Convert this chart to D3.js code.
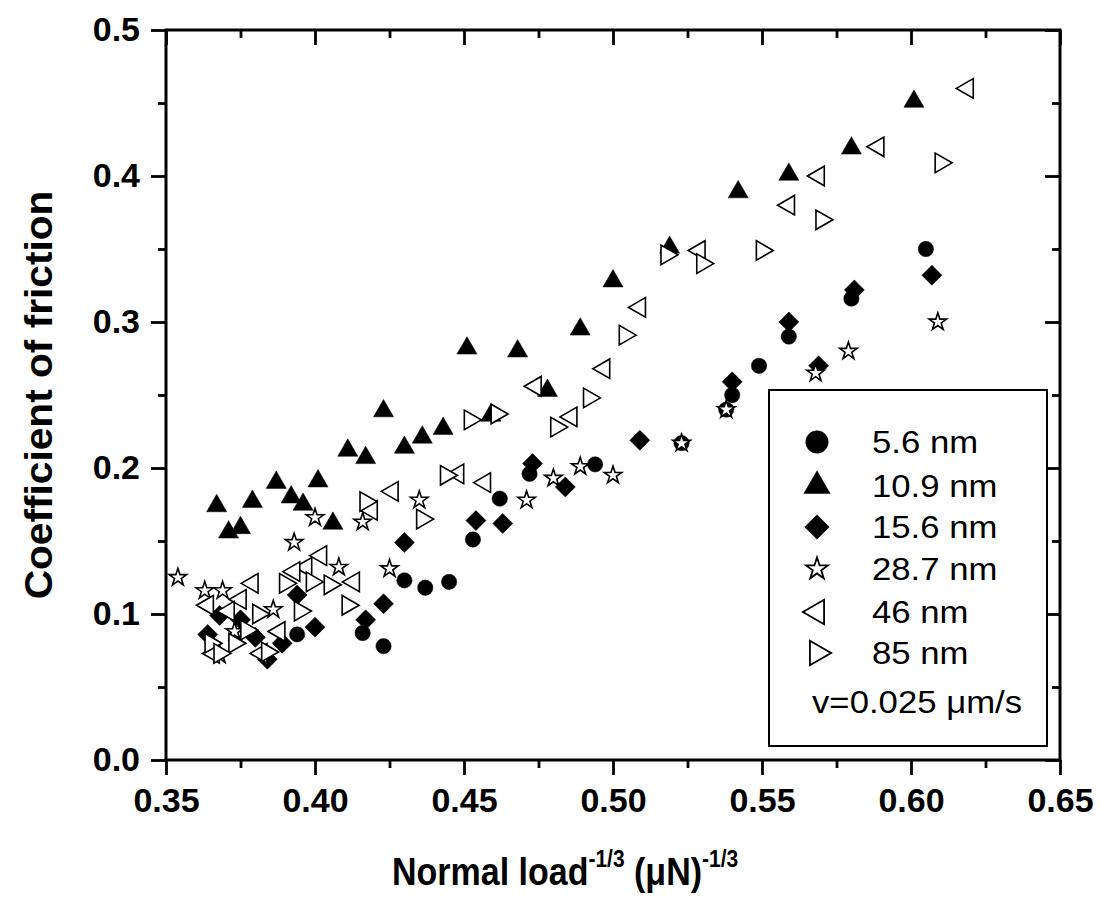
<!DOCTYPE html>
<html>
<head>
<meta charset="utf-8">
<script src="https://cdn.jsdelivr.net/npm/d3@7"></script>
<style>
  body { margin: 0; background: #fff; }
  text { font-family: "Liberation Sans", Arial, sans-serif; fill: #000; }
</style>
</head>
<body>
<svg id="chart"></svg>
<script>
// tick values
const xTicks = [0.35, 0.40, 0.45, 0.50, 0.55, 0.60, 0.65];
const xMinor = [0.375, 0.425, 0.475, 0.525, 0.575, 0.625];
const yTicks = [0.0, 0.1, 0.2, 0.3, 0.4, 0.5];
const yMinor = [0.05, 0.15, 0.25, 0.35, 0.45];

// series: [normal load^-1/3, coefficient of friction]
const s56 = [[0.605,0.350],[0.580,0.316],[0.559,0.290],[0.549,0.270],[0.540,0.250],[0.538,0.240],
  [0.523,0.217],[0.494,0.2025],[0.472,0.196],[0.462,0.179],[0.453,0.151],[0.445,0.122],
  [0.437,0.118],[0.430,0.123],[0.423,0.078],[0.416,0.087],[0.394,0.086]];
const s109 = [[0.601,0.451],[0.580,0.419],[0.559,0.401],[0.542,0.389],[0.519,0.351],[0.500,0.328],
  [0.489,0.295],[0.478,0.253],[0.468,0.280],[0.451,0.282],[0.459,0.236],[0.443,0.227],
  [0.436,0.221],[0.430,0.214],[0.423,0.239],[0.417,0.207],[0.411,0.212],[0.406,0.162],
  [0.401,0.191],[0.396,0.175],[0.392,0.180],[0.387,0.190],[0.379,0.177],[0.375,0.159],
  [0.371,0.156],[0.367,0.174]];
const s156 = [[0.607,0.332],[0.581,0.322],[0.559,0.300],[0.569,0.270],[0.540,0.259],[0.509,0.219],
  [0.484,0.187],[0.473,0.203],[0.463,0.162],[0.454,0.164],[0.430,0.149],[0.423,0.107],
  [0.417,0.096],[0.400,0.091],[0.394,0.113],[0.389,0.080],[0.384,0.069],[0.380,0.084],
  [0.375,0.096],[0.368,0.099],[0.364,0.086]];
const s287 = [[0.609,0.300],[0.579,0.280],[0.568,0.265],[0.538,0.240],[0.523,0.217],[0.500,0.195],
  [0.489,0.201],[0.480,0.193],[0.471,0.178],[0.435,0.178],[0.425,0.131],[0.416,0.163],
  [0.408,0.132],[0.400,0.166],[0.393,0.149],[0.386,0.103],[0.373,0.088],[0.369,0.116],
  [0.363,0.116],[0.354,0.125],[0.368,0.072]];
const s46 = [[0.619,0.460],[0.589,0.420],[0.569,0.400],[0.559,0.380],[0.529,0.349],[0.509,0.310],
  [0.497,0.268],[0.486,0.235],[0.474,0.256],[0.457,0.190],[0.448,0.196],[0.426,0.184],
  [0.419,0.171],[0.413,0.122],[0.402,0.140],[0.397,0.132],[0.393,0.129],[0.388,0.088],
  [0.382,0.073],[0.379,0.121],[0.375,0.110],[0.371,0.102],[0.366,0.073],[0.364,0.106]];
const s85 = [[0.610,0.409],[0.570,0.370],[0.550,0.349],[0.530,0.340],[0.518,0.346],[0.504,0.291],
  [0.492,0.248],[0.481,0.228],[0.461,0.237],[0.452,0.233],[0.444,0.195],[0.436,0.165],
  [0.417,0.177],[0.411,0.106],[0.405,0.120],[0.399,0.122],[0.395,0.102],[0.390,0.121],
  [0.381,0.100],[0.377,0.089],[0.373,0.080],[0.384,0.074],[0.365,0.080],[0.368,0.073]];

const seriesNames = ['5.6 nm', '10.9 nm', '15.6 nm', '28.7 nm', '46 nm', '85 nm'];

const config = {
  width: 1100, height: 897,
  margin: {top: 30, right: 40, bottom: 137, left: 166}
};
const width = config.width - config.margin.left - config.margin.right;
const height = config.height - config.margin.top - config.margin.bottom;

const svg = d3.select('#chart')
    .attr('width', config.width)
    .attr('height', config.height);

const chart = svg.append('g')
    .attr('transform', `translate(${config.margin.left},${config.margin.top})`);

const x = d3.scaleLinear().domain([0.35, 0.65]).range([0, width]);
const y = d3.scaleLinear().domain([0, 0.5]).range([height, 0]);

// marker styles, one per series (plot size, legend size)
const markers = [
  {type: d3.symbolCircle,   size: 185, lsize: 400, rot: 0,   fill: '#000'},
  {type: d3.symbolTriangle, size: 175, lsize: 300, rot: 0,   fill: '#000'},
  {type: d3.symbolSquare,   size: 200, lsize: 300, rot: 45,  fill: '#000'},
  {type: d3.symbolStar,     size: 95,  lsize: 150, rot: 0,   fill: '#fff'},
  {type: d3.symbolTriangle, size: 165, lsize: 260, rot: -90, fill: '#fff'},
  {type: d3.symbolTriangle, size: 165, lsize: 260, rot: 90,  fill: '#fff'}
];
const allSeries = [s56, s109, s156, s287, s46, s85];

// axes
function axisG(axis, tx, ty) {
  const g = chart.append('g')
      .attr('transform', `translate(${tx},${ty})`)
      .call(axis);
  g.select('.domain').remove();
  g.selectAll('line').attr('stroke', '#000').attr('stroke-width', 2.8);
  return g;
}

const xb = axisG(d3.axisBottom(x).tickValues(xTicks).tickFormat(d3.format('.2f'))
    .tickSize(15).tickPadding(13), 0, height);
axisG(d3.axisBottom(x).tickValues(xMinor).tickFormat('').tickSize(8), 0, height);
axisG(d3.axisTop(x).tickValues(xTicks).tickFormat('').tickSize(-15), 0, 0);
axisG(d3.axisTop(x).tickValues(xMinor).tickFormat('').tickSize(-8), 0, 0);

const yl = axisG(d3.axisLeft(y).tickValues(yTicks).tickFormat(d3.format('.1f'))
    .tickSize(15).tickPadding(11), 0, 0);
axisG(d3.axisLeft(y).tickValues(yMinor).tickFormat('').tickSize(8), 0, 0);
axisG(d3.axisRight(y).tickValues(yTicks).tickFormat('').tickSize(-15), width, 0);
axisG(d3.axisRight(y).tickValues(yMinor).tickFormat('').tickSize(-8), width, 0);

[xb, yl].forEach(g => g.selectAll('text')
    .attr('font-family', '"Liberation Sans", Arial, sans-serif')
    .attr('font-size', 34)
    .attr('font-weight', 'bold')
    .attr('fill', '#000'));

chart.append('rect')
    .attr('width', width)
    .attr('height', height)
    .attr('fill', 'none')
    .attr('stroke', '#000')
    .attr('stroke-width', 3);

// points
allSeries.forEach((data, i) => {
  const m = markers[i];
  const sym = d3.symbol().type(m.type).size(m.size);
  chart.append('g')
    .selectAll('path')
    .data(data)
    .join('path')
      .attr('d', sym)
      .attr('transform', d => `translate(${x(d[0])},${y(d[1])}) rotate(${m.rot})`)
      .attr('fill', m.fill)
      .attr('stroke', '#000')
      .attr('stroke-width', m.fill === '#000' ? 0.5 : 1.6);
});

// legend
const legend = svg.append('g');
legend.append('rect')
    .attr('x', 769).attr('y', 390)
    .attr('width', 278).attr('height', 356)
    .attr('fill', '#fff')
    .attr('stroke', '#000')
    .attr('stroke-width', 2);

const rowY = [442, 486, 527, 569, 612, 653];
seriesNames.forEach((name, i) => {
  const m = markers[i];
  legend.append('path')
      .attr('d', d3.symbol().type(m.type).size(m.lsize))
      .attr('transform', `translate(817,${rowY[i]}) rotate(${m.rot})`)
      .attr('fill', m.fill)
      .attr('stroke', '#000')
      .attr('stroke-width', m.fill === '#000' ? 0.5 : 1.8);
  legend.append('text')
      .attr('transform', `translate(872,${rowY[i] + 11}) scale(1.12,1)`)
      .attr('font-size', 31)
      .text(name);
});
legend.append('text')
    .attr('transform', 'translate(812,713) scale(1.12,1)')
    .attr('font-size', 31)
    .text('v=0.025 \u03bcm/s');

// axis titles
const xt = svg.append('text')
    .attr('transform', 'translate(392,885) scale(1,1.15)')
    .attr('font-size', 34)
    .attr('font-weight', 'bold');
xt.append('tspan').text('Normal load');
xt.append('tspan').attr('font-size', 21).attr('dy', -15.5).text('-1/3');
xt.append('tspan').attr('dy', 15.5).text(' (\u03bcN)');
xt.append('tspan').attr('font-size', 21).attr('dy', -15.5).text('-1/3');

svg.append('text')
    .attr('transform', `translate(52,${config.margin.top + height / 2}) rotate(-90) scale(1.07,1)`)
    .attr('text-anchor', 'middle')
    .attr('font-size', 38)
    .attr('font-weight', 'bold')
    .text('Coefficient of friction');
</script>
</body>
</html>
